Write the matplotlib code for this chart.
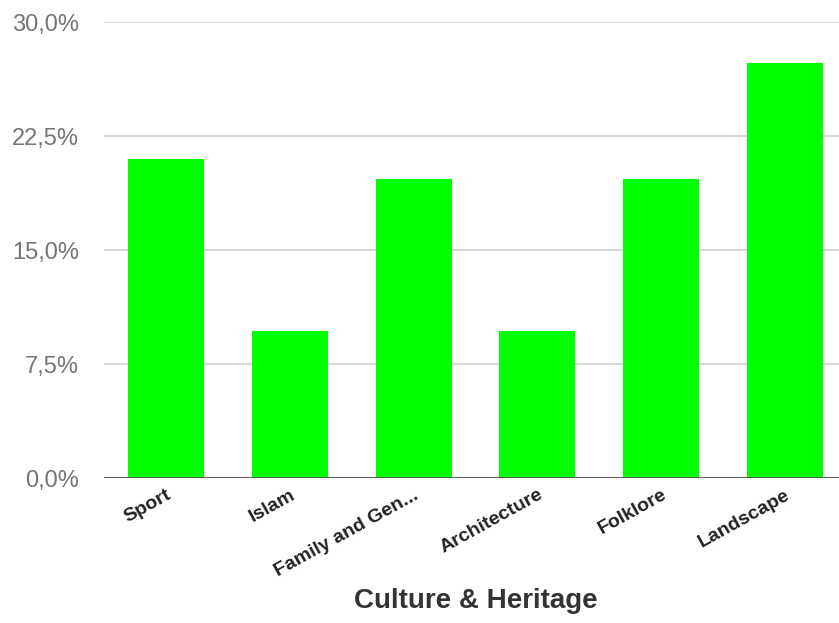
import matplotlib.pyplot as plt
from matplotlib.ticker import FuncFormatter

categories = ["Sport", "Islam", "Family and Gen...", "Architecture", "Folklore", "Landscape"]
shares = [21.0, 9.7, 19.7, 9.7, 19.7, 27.3]
y_ticks = [0, 7.5, 15, 22.5, 30]

plt.rcParams['font.family'] = ['Liberation Sans', 'DejaVu Sans']

fig = plt.figure(figsize=(8.39, 6.23), dpi=100)
# plot area runs a little past the right edge of the canvas
ax = fig.add_axes([104 / 839, 145 / 623, 743 / 839, 456 / 623])

x = list(range(len(categories)))
ax.bar(x, shares, width=0.614, color="#00ff00", zorder=2)

ax.set_xlim(-0.5, len(categories) - 0.5)
ax.set_ylim(0, 30)
ax.set_yticks(y_ticks)
ax.yaxis.set_major_formatter(FuncFormatter(lambda v, _: f"{v:.1f}%".replace(".", ",")))
ax.tick_params(axis="y", length=0, pad=18, labelsize=17, labelcolor="#757575")
ax.grid(axis="y", color="#d6d6d6", linewidth=1.4, zorder=0)
ax.axhline(0, color="#4d4d4d", linewidth=2, zorder=3)

ax.set_xticks(x)
ax.set_xticklabels(categories, rotation=29, ha="right", rotation_mode="anchor",
                   fontsize=14, fontweight="bold", color="#222222")
ax.tick_params(axis="x", length=0, pad=6)

ax.set_xlabel("Culture & Heritage", fontsize=20, fontweight="bold", color="#333333", labelpad=6)

for s in ax.spines.values():
    s.set_visible(False)

fig.savefig("out.png", dpi=100)
